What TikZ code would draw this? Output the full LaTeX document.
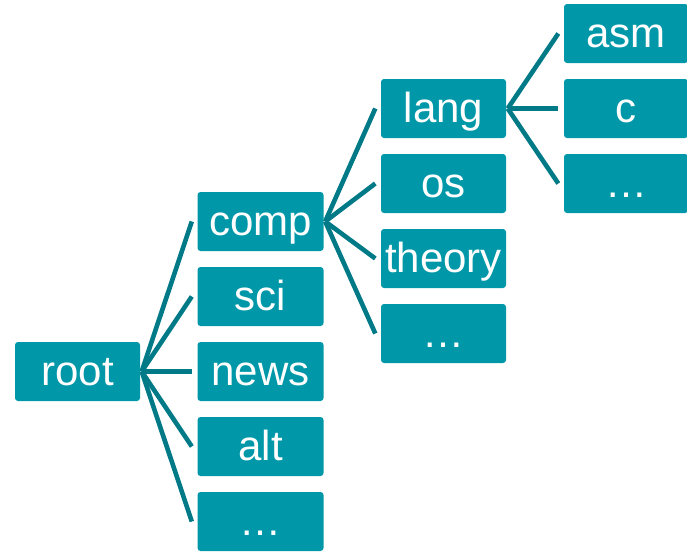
\documentclass[tikz,border=0pt]{standalone}
\usepackage{fontspec}
\setmainfont{Liberation Sans}
\definecolor{boxfill}{RGB}{0,152,168}
\definecolor{linkcol}{RGB}{0,122,135}
\begin{document}
\begin{tikzpicture}[x=1pt,y=1pt,
  cat/.style={fill=boxfill, rounded corners=3pt, inner sep=0pt,
    minimum width=126pt, minimum height=59pt, text=white,
    font=\fontsize{42}{42}\selectfont, text height=32pt, text depth=5pt},
  link/.style={draw=linkcol, line width=4.6pt}]
\useasboundingbox (0,0) rectangle (687,-552);
% top-level
\node[cat, minimum width=125pt] (root) at (77.5,-371.5) {root};
% first level
\node[cat] (comp) at (260.5,-221.5) {comp};
\node[cat] (sci)  at (260.5,-296.5) {sci};
\node[cat] (news) at (260.5,-371.5) {news};
\node[cat] (alt)  at (260.5,-446.5) {alt};
\node[cat] (l1more) at (260.5,-521.5) {…};
% second level under comp
\node[cat, minimum width=125pt] (lang)   at (443.5,-108.5) {lang};
\node[cat, minimum width=125pt] (os)     at (443.5,-183.5) {os};
\node[cat, minimum width=125pt] (theory) at (443.5,-258.5) {theory};
\node[cat, minimum width=125pt] (l2more) at (443.5,-333.5) {…};
% third level under lang
\node[cat, minimum width=124pt] (asm)    at (626,-33.5) {asm};
\node[cat, minimum width=124pt] (c)      at (626,-108.5) {c};
\node[cat, minimum width=124pt] (l3more) at (626,-183.5) {…};
% connectors
\foreach \ch in {comp,sci,news,alt,l1more}
  \draw[link] ([xshift=1.5pt]root.east) -- ([xshift=-5.5pt]\ch.west);
\foreach \ch in {lang,os,theory,l2more}
  \draw[link] ([xshift=1.5pt]comp.east) -- ([xshift=-5.5pt]\ch.west);
\foreach \ch in {asm,c,l3more}
  \draw[link] ([xshift=1.5pt]lang.east) -- ([xshift=-5.5pt]\ch.west);
\end{tikzpicture}
\end{document}
